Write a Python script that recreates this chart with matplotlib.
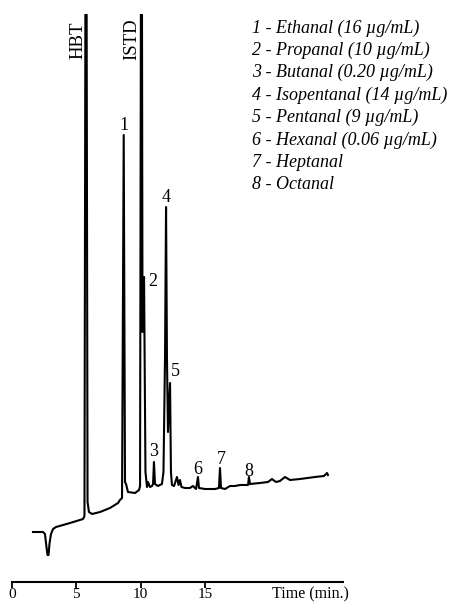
import numpy as np
import matplotlib
matplotlib.use("Agg")
import matplotlib.pyplot as plt

# Chromatogram trace (time in min, detector signal in arbitrary units)
trace_time = [1.63, 2.41, 2.56, 2.68, 2.76, 2.84, 2.91, 3.03, 3.19, 3.42, 4.51, 5.52,
              5.63, 5.75, 5.87, 5.98, 6.22, 6.84, 7.61, 8.24, 8.39,
              8.55, 8.68, 8.78, 8.86, 9.01, 9.56, 9.87,
              9.95, 10.06, 10.14, 10.26, 10.37, 10.49,
              10.57, 10.72, 10.88, 10.96, 11.03, 11.11, 11.34, 11.65,
              11.77, 11.89, 11.97, 12.04, 12.12, 12.28, 12.35, 12.43,
              12.59, 12.82, 12.94, 13.05, 13.17, 13.44, 13.83, 14.06, 14.30,
              14.45, 14.53, 15.00, 15.77, 16.08, 16.16, 16.24,
              16.55, 16.94, 17.32, 17.72, 18.34, 18.41, 18.49,
              19.27, 19.89, 20.20, 20.51, 20.82, 21.21, 21.60, 22.38, 23.54,
              24.24, 24.48, 24.55]
trace_signal = [50, 50, 48, 35, 27, 27, 38, 48, 53, 55, 59, 63,
                66, 900, 80, 70, 68, 70, 74, 79, 82,
                84, 447, 100, 98, 90, 89, 92,
                96, 900, 250, 305, 110, 95,
                100, 95, 96, 98, 120, 98, 96, 98,
                110, 225, 375, 225, 150, 199, 110, 97,
                96, 105, 97, 102, 95, 94, 94, 96, 93,
                105, 94, 93, 93, 94, 114, 94,
                93, 96, 96, 97, 97, 105, 98,
                99, 100, 103, 100, 101, 105, 102, 103, 105,
                106, 109, 107]

peak_labels = ["1", "2", "3", "4", "5", "6", "7", "8"]
label_time = [8.70, 10.96, 11.03, 11.97, 12.67, 14.45, 16.24, 18.41]
label_signal = [456, 300, 130, 385, 210, 113, 123, 111]

std_labels = ["HBT", "ISTD"]
std_time = [5.13, 9.29]
std_signal = [542, 543]

legend_lines = [
    "1 - Ethanal (16 \u00b5g/mL)",
    "2 - Propanal (10 \u00b5g/mL)",
    "3 - Butanal (0.20 \u00b5g/mL)",
    "4 - Isopentanal (14 \u00b5g/mL)",
    "5 - Pentanal (9 \u00b5g/mL)",
    "6 - Hexanal (0.06 \u00b5g/mL)",
    "7 - Heptanal",
    "8 - Octanal",
]

xticks = [0, 5, 10, 15]

plt.rcParams['font.family'] = ['Liberation Serif', 'DejaVu Serif']

W, H = 457, 603
fig = plt.figure(figsize=(W / 100, H / 100), dpi=100)
px_per_min = 12.87
ax = fig.add_axes([0, 1 - 582 / H, 1, (582 - 14) / H])
ax.set_xlim(-12 / px_per_min, (W - 12) / px_per_min)
ax.set_ylim(0, 568)

ax.plot(trace_time, trace_signal, color="black", lw=1.5, solid_joinstyle="round")

for lab, t, s in zip(peak_labels, label_time, label_signal):
    ax.text(t, s, lab, ha="center", va="center", fontsize=13)
for lab, t, s in zip(std_labels, std_time, std_signal):
    ax.text(t, s, lab, ha="center", va="center", fontsize=13.5, rotation=90)

# axis styling: only the time axis
for side in ["top", "right", "left"]:
    ax.spines[side].set_visible(False)
ax.spines["bottom"].set_bounds(0, 25.7)
ax.spines["bottom"].set_linewidth(1.5)
ax.set_yticks([])
ax.set_xticks(xticks)
ax.tick_params(axis="x", direction="out", length=4, width=1.3, pad=0, labelsize=11)
ax.text((310 - 12) / px_per_min, -12, "Time (min.)", ha="center", va="center",
        fontsize=11.5, clip_on=False)

for i, line in enumerate(legend_lines):
    yc = 28 + i * 22.4
    fig.text(252 / W, 1 - yc / H, line, ha="left", va="center",
             fontsize=13, style="italic")

fig.savefig("out.png", dpi=100)
